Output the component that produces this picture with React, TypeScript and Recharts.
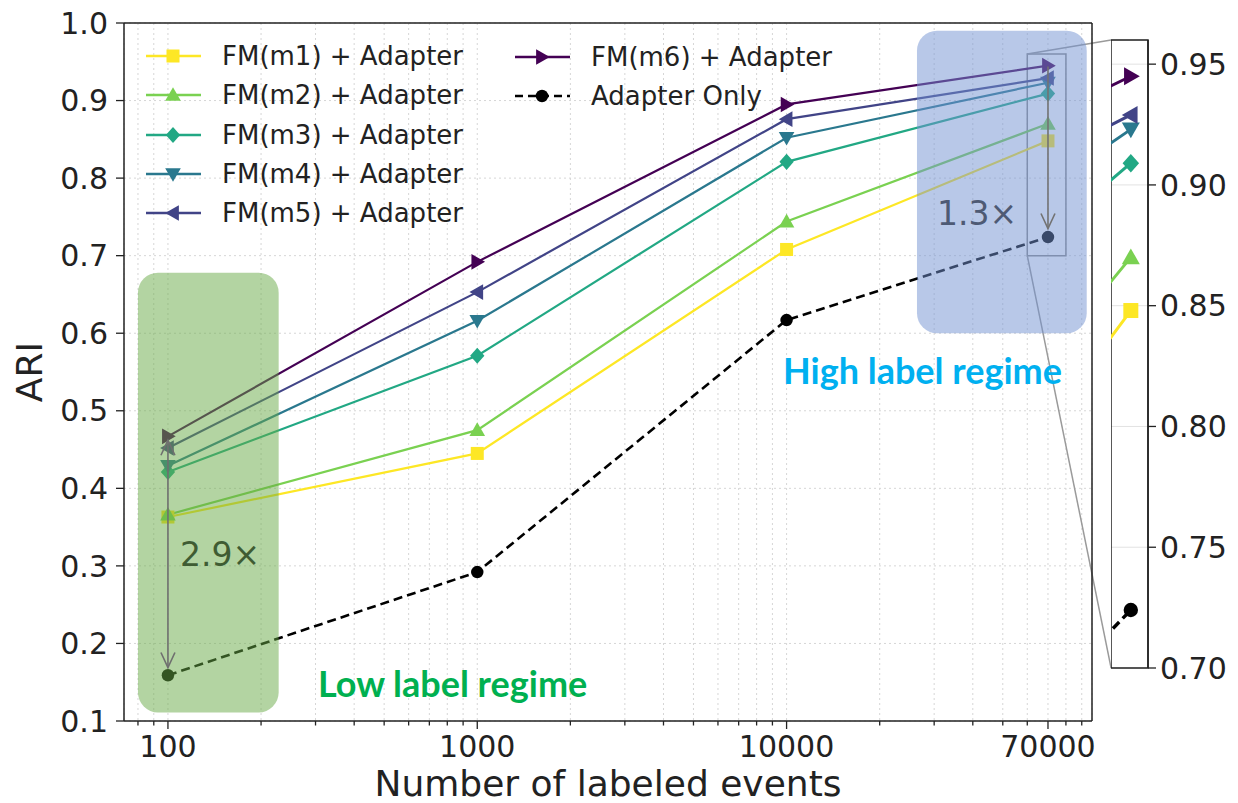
import React from 'react';
import { LineChart, Line, XAxis, YAxis, CartesianGrid, ReferenceArea, ReferenceLine } from 'recharts';

// ---------------- data ----------------
const xValues = [100, 1000, 10000, 70000];
const fmM1 = [0.363, 0.445, 0.708, 0.848];
const fmM2 = [0.366, 0.475, 0.744, 0.870];
const fmM3 = [0.421, 0.571, 0.821, 0.909];
const fmM4 = [0.429, 0.616, 0.852, 0.923];
const fmM5 = [0.452, 0.653, 0.876, 0.929];
const fmM6 = [0.467, 0.692, 0.895, 0.945];
const adapterOnly = [0.159, 0.292, 0.617, 0.724];

const seriesNames = [
  'FM(m1) + Adapter',
  'FM(m2) + Adapter',
  'FM(m3) + Adapter',
  'FM(m4) + Adapter',
  'FM(m5) + Adapter',
  'FM(m6) + Adapter',
  'Adapter Only',
];
const seriesKeys = ['m1', 'm2', 'm3', 'm4', 'm5', 'm6', 'adapter'];
const seriesValues = [fmM1, fmM2, fmM3, fmM4, fmM5, fmM6, adapterOnly];
const seriesColors = ['#fde725', '#7ad151', '#22a884', '#2a788e', '#414487', '#440154', '#000000'];
const seriesShapes = ['square', 'up', 'diamond', 'down', 'left', 'right', 'circle'];

const xTickLabels = [100, 1000, 10000, 70000];
const xMinorTicks = [
  80, 90, 200, 300, 400, 500, 600, 700, 800, 900,
  2000, 3000, 4000, 5000, 6000, 7000, 8000, 9000,
  20000, 30000, 40000, 50000, 60000, 80000, 90000,
];
const yTicks = [0.1, 0.2, 0.3, 0.4, 0.5, 0.6, 0.7, 0.8, 0.9, 1.0];
const insetYTicks = [0.7, 0.75, 0.8, 0.85, 0.9, 0.95];

// annotation regions (data coordinates)
const xDomain: [number, number] = [72.1, 97140];
const yDomain: [number, number] = [0.1, 1.0];
const insetXDomain: [number, number] = [60000, 80000];
const insetYDomain: [number, number] = [0.7, 0.96];
const lowRegime = { x1: 80, x2: 228, y1: 0.111, y2: 0.678 };
const highRegime = { x1: 26400, x2: 93400, y1: 0.6, y2: 0.99 };
const lowArrow = { x: 100, from: 0.462, to: 0.169 };
const highArrow = { x: 70000, from: 0.944, to: 0.735 };
const connectorX = 112000;
const connectorTopY = 0.978;
const connectorBottomY = 0.1683;

const data = xValues.map((x, i) => {
  const row: any = { x };
  seriesKeys.forEach((k, j) => {
    row[k] = seriesValues[j][i];
  });
  return row;
});

const allXTicks = [...xTickLabels, ...xMinorTicks].sort((a, b) => a - b);

const FONT = '"DejaVu Sans", sans-serif';
const TEXT = '#222222';
const MAIN_MARGIN = { top: 23, right: 146, bottom: 0, left: 0 };
const X_AXIS_H = 82;
const Y_AXIS_W = 124;

// ---------------- markers ----------------
function Marker({ shape, cx, cy, color, s }: any) {
  if (cx == null || cy == null) return null;
  switch (shape) {
    case 'square':
      return <rect x={cx - s * 0.5} y={cy - s * 0.5} width={s} height={s} fill={color} />;
    case 'up':
      return <polygon points={`${cx},${cy - s * 0.6} ${cx - s * 0.6},${cy + s * 0.45} ${cx + s * 0.6},${cy + s * 0.45}`} fill={color} />;
    case 'down':
      return <polygon points={`${cx},${cy + s * 0.6} ${cx - s * 0.6},${cy - s * 0.45} ${cx + s * 0.6},${cy - s * 0.45}`} fill={color} />;
    case 'left':
      return <polygon points={`${cx - s * 0.6},${cy} ${cx + s * 0.45},${cy - s * 0.6} ${cx + s * 0.45},${cy + s * 0.6}`} fill={color} />;
    case 'right':
      return <polygon points={`${cx + s * 0.6},${cy} ${cx - s * 0.45},${cy - s * 0.6} ${cx - s * 0.45},${cy + s * 0.6}`} fill={color} />;
    case 'diamond':
      return <polygon points={`${cx},${cy - s * 0.62} ${cx + s * 0.55},${cy} ${cx},${cy + s * 0.62} ${cx - s * 0.55},${cy}`} fill={color} />;
    default:
      return <circle cx={cx} cy={cy} r={s * 0.48} fill={color} />;
  }
}

const X_TICK_SIZE = 8;
const X_TICK_MARGIN = 6;
function XTick(props: any) {
  const { x, y, payload } = props;
  const v = payload.value;
  const major = xTickLabels.includes(v);
  const axisY = y - X_TICK_SIZE - X_TICK_MARGIN;
  return (
    <g>
      <line x1={x} x2={x} y1={axisY} y2={axisY + (major ? 8 : 4.5)} stroke={TEXT} strokeWidth={1.3} />
      {major && (
        <text x={x} y={y} dy="0.74em" textAnchor="middle" fontSize={30} fill={TEXT} fontFamily={FONT}>
          {v}
        </text>
      )}
    </g>
  );
}

function arrowShape(color: string, both: boolean) {
  return (props: any) => {
    const { x1, y1, x2, y2 } = props;
    const dir = y2 > y1 ? 1 : -1;
    return (
      <g>
        <line x1={x1} y1={y1} x2={x2} y2={y2} stroke={color} strokeWidth={1.6} />
        <polyline
          points={`${x2 - 7},${y2 - dir * 15} ${x2},${y2} ${x2 + 7},${y2 - dir * 15}`}
          fill="none"
          stroke={color}
          strokeWidth={1.6}
        />
        {both && (
          <polyline
            points={`${x1 - 7},${y1 + dir * 15} ${x1},${y1} ${x1 + 7},${y1 + dir * 15}`}
            fill="none"
            stroke={color}
            strokeWidth={1.6}
          />
        )}
      </g>
    );
  };
}

function roundedShape(r: number) {
  return (props: any) => {
    const { x, y, width, height, fill, fillOpacity } = props;
    return <rect x={x} y={y} width={width} height={height} rx={r} ry={r} fill={fill} fillOpacity={fillOpacity} />;
  };
}

function renderLines(sw: number, ms: number) {
  return seriesKeys.map((k, j) => (
    <Line
      key={k}
      type="linear"
      dataKey={k}
      stroke={seriesColors[j]}
      strokeWidth={k === 'adapter' ? sw + 0.4 : sw}
      strokeDasharray={k === 'adapter' ? '9 5' : undefined}
      isAnimationActive={false}
      activeDot={false}
      dot={(p: any) => (
        <Marker key={`${k}-${p.index}`} shape={seriesShapes[j]} cx={p.cx} cy={p.cy} color={seriesColors[j]} s={ms} />
      )}
    />
  ));
}

function LegendItem({ j, left, top }: any) {
  const dashed = seriesKeys[j] === 'adapter';
  return (
    <div style={{ position: 'absolute', left, top: top - 18, height: 36, display: 'flex', alignItems: 'center' }}>
      <svg width={58} height={36} style={{ display: 'block' }}>
        <line
          x1={1}
          x2={56}
          y1={18}
          y2={18}
          stroke={seriesColors[j]}
          strokeWidth={2.5}
          strokeDasharray={dashed ? '8 5' : undefined}
        />
        <Marker shape={seriesShapes[j]} cx={28} cy={18} color={seriesColors[j]} s={13} />
      </svg>
      <span style={{ marginLeft: 19, fontSize: 26, fontFamily: FONT, color: TEXT, whiteSpace: 'nowrap' }}>
        {seriesNames[j]}
      </span>
    </div>
  );
}

export default function App() {
  const col1Rows = [56, 95, 135, 174, 213];
  const col2Rows = [57, 96];
  return (
    <div style={{ position: 'absolute', left: 0, top: 0, width: 1238, height: 803, background: '#fff', overflow: 'hidden', fontFamily: FONT }}>
      <LineChart width={1238} height={803} data={data} margin={MAIN_MARGIN}>
        <CartesianGrid stroke="#d6d6d6" strokeDasharray="2 3" strokeWidth={1} />
        <XAxis
          dataKey="x"
          type="number"
          scale="log"
          domain={xDomain}
          allowDataOverflow
          ticks={allXTicks}
          interval={0}
          height={X_AXIS_H}
          tickSize={X_TICK_SIZE}
          tickMargin={X_TICK_MARGIN}
          tickLine={false}
          tick={<XTick />}
          axisLine={{ stroke: TEXT, strokeWidth: 1.5 }}
        />
        <YAxis
          type="number"
          domain={yDomain}
          allowDataOverflow
          ticks={yTicks}
          interval={0}
          width={Y_AXIS_W}
          tickSize={8}
          tickMargin={8}
          tickFormatter={(v: number) => v.toFixed(1)}
          tick={{ fontSize: 30, fill: TEXT, fontFamily: FONT }}
          tickLine={{ stroke: TEXT, strokeWidth: 1.3 }}
          axisLine={{ stroke: TEXT, strokeWidth: 1.5 }}
        />
        <ReferenceArea
          x1={insetXDomain[0]}
          x2={insetXDomain[1]}
          y1={insetYDomain[0]}
          y2={insetYDomain[1]}
          fill="none"
          stroke="#8c8c8c"
          strokeWidth={1.5}
          ifOverflow="visible"
        />
        <ReferenceLine
          segment={[{ x: insetXDomain[0], y: insetYDomain[1] }, { x: connectorX, y: connectorTopY }]}
          stroke="#9a9a9a"
          strokeWidth={1.5}
          ifOverflow="visible"
        />
        <ReferenceLine
          segment={[{ x: insetXDomain[0], y: insetYDomain[0] }, { x: connectorX, y: connectorBottomY }]}
          stroke="#9a9a9a"
          strokeWidth={1.5}
          ifOverflow="visible"
        />
        {renderLines(2.2, 13)}
        <ReferenceLine y={yDomain[1]} stroke={TEXT} strokeWidth={1.5} ifOverflow="visible" />
        <ReferenceLine x={xDomain[1]} stroke={TEXT} strokeWidth={1.5} ifOverflow="visible" />
      </LineChart>

      {/* translucent overlay: regime boxes and arrows drawn above the series */}
      <div style={{ position: 'absolute', left: 0, top: 0, pointerEvents: 'none' }}>
        <LineChart
          width={1238}
          height={803}
          data={data}
          margin={{ top: MAIN_MARGIN.top, right: MAIN_MARGIN.right, bottom: X_AXIS_H, left: Y_AXIS_W }}
        >
          <XAxis dataKey="x" type="number" scale="log" domain={xDomain} allowDataOverflow hide />
          <YAxis type="number" domain={yDomain} allowDataOverflow hide />
          <ReferenceLine
            segment={[{ x: lowArrow.x, y: lowArrow.from }, { x: lowArrow.x, y: lowArrow.to }]}
            stroke="#777777"
            shape={arrowShape('#6f6f6f', true)}
            ifOverflow="visible"
          />
          <ReferenceLine
            segment={[{ x: highArrow.x, y: highArrow.from }, { x: highArrow.x, y: highArrow.to }]}
            stroke="#777777"
            shape={arrowShape('#727272', false)}
            ifOverflow="visible"
          />
          <ReferenceArea
            x1={lowRegime.x1}
            x2={lowRegime.x2}
            y1={lowRegime.y1}
            y2={lowRegime.y2}
            fill="rgb(104,170,70)"
            fillOpacity={0.5}
            ifOverflow="visible"
            shape={roundedShape(20)}
          />
          <ReferenceArea
            x1={highRegime.x1}
            x2={highRegime.x2}
            y1={highRegime.y1}
            y2={highRegime.y2}
            fill="rgb(114,146,210)"
            fillOpacity={0.5}
            ifOverflow="visible"
            shape={roundedShape(20)}
          />
        </LineChart>
      </div>

      {/* inset */}
      <div style={{ position: 'absolute', left: 1111, top: 20 }}>
        <LineChart width={127} height={668} data={data} margin={{ top: 20, right: 0, bottom: 20, left: 0 }}>
          <CartesianGrid vertical={false} stroke="#e2e2e2" strokeWidth={1} />
          <XAxis dataKey="x" type="number" scale="log" domain={insetXDomain} allowDataOverflow hide />
          <YAxis
            type="number"
            orientation="right"
            domain={insetYDomain}
            allowDataOverflow
            ticks={insetYTicks}
            interval={0}
            width={90}
            tickSize={8}
            tickMargin={4}
            tickFormatter={(v: number) => v.toFixed(2)}
            tick={{ fontSize: 30, fill: TEXT, fontFamily: FONT }}
            tickLine={{ stroke: TEXT, strokeWidth: 1.3 }}
            axisLine={{ stroke: TEXT, strokeWidth: 1.5 }}
          />
          {renderLines(3, 15)}
          <ReferenceArea
            x1={insetXDomain[0]}
            x2={insetXDomain[1]}
            y1={insetYDomain[0]}
            y2={insetYDomain[1]}
            fill="none"
            stroke={TEXT}
            strokeWidth={1.5}
            ifOverflow="visible"
          />
        </LineChart>
      </div>

      {/* legend */}
      {col1Rows.map((t, i) => (
        <LegendItem key={`l1-${i}`} j={i} left={145} top={t} />
      ))}
      {col2Rows.map((t, i) => (
        <LegendItem key={`l2-${i}`} j={5 + i} left={514} top={t} />
      ))}

      {/* annotations */}
      <div style={{ position: 'absolute', left: 180, top: 554, transform: 'translateY(-50%)', fontSize: 33, lineHeight: 1, fontFamily: FONT, color: '#3f5c33', whiteSpace: 'nowrap' }}>
        2.9×
      </div>
      <div style={{ position: 'absolute', left: 937, top: 213, transform: 'translateY(-50%)', fontSize: 33, lineHeight: 1, fontFamily: FONT, color: '#4e5a74', whiteSpace: 'nowrap' }}>
        1.3×
      </div>
      <div style={{ position: 'absolute', left: 318, top: 683, transform: 'translateY(-50%)', fontSize: 36, lineHeight: 1, fontWeight: 700, fontFamily: 'Lato, sans-serif', color: '#00b050', whiteSpace: 'nowrap' }}>
        Low label regime
      </div>
      <div style={{ position: 'absolute', left: 783, top: 370, transform: 'translateY(-50%)', fontSize: 36, lineHeight: 1, fontWeight: 700, fontFamily: 'Lato, sans-serif', color: '#00b0f0', whiteSpace: 'nowrap' }}>
        High label regime
      </div>

      {/* axis titles */}
      <div style={{ position: 'absolute', left: 608, top: 784, transform: 'translate(-50%, -50%)', fontSize: 36, lineHeight: 1, fontFamily: FONT, color: TEXT, whiteSpace: 'nowrap' }}>
        Number of labeled events
      </div>
      <div style={{ position: 'absolute', left: 30, top: 372, transform: 'translate(-50%, -50%) rotate(-90deg)', fontSize: 36, lineHeight: 1, fontFamily: FONT, color: TEXT, whiteSpace: 'nowrap' }}>
        ARI
      </div>
    </div>
  );
}
